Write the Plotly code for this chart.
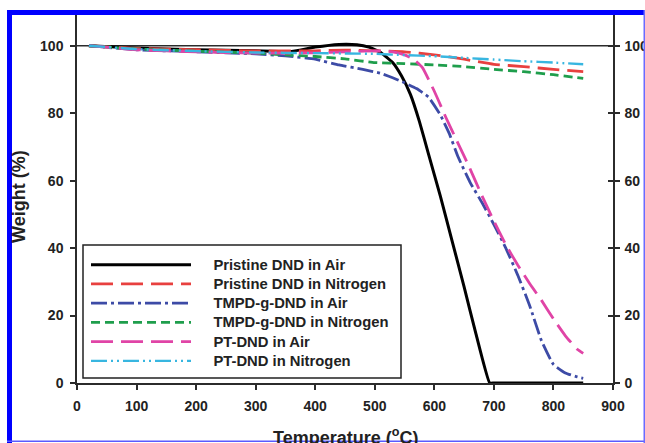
import plotly.graph_objects as go

# ---- TGA data: temperature (°C) and residual weight (%) per sample ----
t_pristine_air = [20, 100, 200, 300, 360, 400, 440, 470, 490, 510, 530, 545, 560, 575, 590, 610, 630, 650, 670, 693, 700, 750, 800, 850]
w_pristine_air = [100, 99.3, 98.8, 98.5, 98.3, 99.6, 100.4, 100.3, 99.6, 98.0, 95.0, 91.0, 85.5, 77.5, 68.0, 55.5, 42.0, 28.5, 14.5, 0, 0, 0, 0, 0]

t_pristine_n2 = [20, 100, 200, 300, 400, 450, 500, 550, 600, 650, 700, 750, 800, 850]
w_pristine_n2 = [100, 99.2, 98.8, 98.5, 98.5, 98.7, 98.5, 98.2, 97.3, 96.0, 94.5, 93.8, 93.0, 92.3]

t_tmpd_air = [20, 100, 200, 300, 350, 400, 440, 480, 510, 530, 550, 570, 590, 610, 625, 640, 660, 680, 700, 720, 740, 760, 780, 800, 820, 840, 850]
w_tmpd_air = [100, 98.8, 98.2, 97.6, 97.0, 96.0, 94.3, 93.0, 91.8, 90.5, 89.0, 87.3, 84.8, 79.5, 74.0, 67.0, 59.5, 53.5, 47.0, 40.0, 32.0, 23.0, 12.5, 5.5, 3.0, 1.8, 1.4]

t_tmpd_n2 = [20, 100, 200, 300, 350, 400, 450, 500, 550, 600, 650, 700, 750, 800, 850]
w_tmpd_n2 = [100, 99.0, 98.4, 97.8, 97.3, 96.8, 96.1, 95.0, 94.7, 94.3, 93.8, 93.0, 92.3, 91.4, 90.3]

t_pt_air = [20, 100, 200, 300, 400, 450, 500, 530, 550, 565, 580, 600, 620, 640, 660, 680, 700, 720, 740, 760, 780, 800, 820, 840, 850]
w_pt_air = [100, 98.8, 98.2, 97.8, 97.9, 98.2, 98.5, 98.2, 97.3, 96.0, 93.5, 86.5, 78.5, 71.0, 63.5, 55.5, 48.0, 41.0, 35.0, 29.5, 24.5, 19.0, 14.0, 10.0, 8.8]

t_pt_n2 = [20, 100, 200, 300, 400, 450, 500, 550, 600, 650, 700, 750, 800, 850]
w_pt_n2 = [100, 99.0, 98.4, 98.0, 97.8, 97.7, 97.6, 97.2, 96.9, 96.4, 95.9, 95.4, 95.0, 94.5]

series_names = [
    "Pristine DND in Air",
    "Pristine DND in Nitrogen",
    "TMPD-g-DND in Air",
    "TMPD-g-DND in Nitrogen",
    "PT-DND in Air",
    "PT-DND in Nitrogen",
]

x_ticks = [0, 100, 200, 300, 400, 500, 600, 700, 800, 900]
y_ticks = [0, 20, 40, 60, 80, 100]

# line styles: (colour, width, dash)
styles = [
    ("#000000", 3.0, "solid"),
    ("#e8403f", 2.8, "22px,8px"),
    ("#3d4ba6", 2.8, "16px,4px,3px,4px"),
    ("#1f9e4c", 2.8, "9px,5px"),
    ("#e044a6", 2.8, "22px,8px"),
    ("#38b6e0", 2.4, "16px,4px,2px,4px,2px,4px"),
]

data = [
    (t_pristine_air, w_pristine_air),
    (t_pristine_n2, w_pristine_n2),
    (t_tmpd_air, w_tmpd_air),
    (t_tmpd_n2, w_tmpd_n2),
    (t_pt_air, w_pt_air),
    (t_pt_n2, w_pt_n2),
]

FONT = "Arial, Liberation Sans, sans-serif"
AX = "#2b2b2b"
TXT = "#222222"
LEGEND_TEXT_PX = 14.8   # drawn size of the legend labels
LEGEND_GAP = "\u00a0" * 5  # space between the line sample and its label

fig = go.Figure()
for name, (tx, wy), (col, lw, dash) in zip(series_names, data, styles):
    fig.add_trace(go.Scatter(
        x=tx, y=wy, mode="lines",
        name=f'{LEGEND_GAP}<span style="font-size:{LEGEND_TEXT_PX}px">{name}</span>',
        line=dict(color=col, width=lw, dash=dash, shape="spline", smoothing=0.4),
    ))

# empty traces so the right-hand axes (labels + inward tick half) are drawn
fig.add_trace(go.Scatter(x=[], y=[], yaxis="y2", showlegend=False))
fig.add_trace(go.Scatter(x=[], y=[], yaxis="y3", showlegend=False))

tickfont = dict(family=FONT, size=14, color=TXT, weight="bold")

# plot-area geometry in pixels (for placing shapes/annotations in paper units)
L, R, T, B = 77, 613, 12, 383
W_PX, H_PX = R - L, B - T


def px(xp):
    return (xp - L) / W_PX


def py(yp):
    return (B - yp) / H_PX


shapes = [
    # reference line at 100 %
    dict(type="line", xref="x", yref="y", x0=0, x1=900, y0=100, y1=100,
         line=dict(color=AX, width=1.5), layer="below"),
    # legend frame
    dict(type="rect", xref="paper", yref="paper", x0=px(83), x1=px(401), y0=py(378), y1=py(245),
         line=dict(color=TXT, width=1.5), fillcolor="white", layer="below"),
    # blue outer frame
    dict(type="rect", xref="paper", yref="paper", x0=px(7), x1=px(646), y0=py(15), y1=py(10),
         line=dict(width=0), fillcolor="#0000ff", layer="above"),
    dict(type="rect", xref="paper", yref="paper", x0=px(7), x1=px(12), y0=py(444), y1=py(10),
         line=dict(width=0), fillcolor="#0000ff", layer="above"),
    dict(type="rect", xref="paper", yref="paper", x0=px(7), x1=px(646), y0=py(442), y1=py(440.5),
         line=dict(width=0), fillcolor="#5a5aff", layer="above"),
    dict(type="rect", xref="paper", yref="paper", x0=px(643.5), x1=px(646), y0=py(444), y1=py(10),
         line=dict(width=0), fillcolor="#6a6aff", layer="above"),
]

title_font = dict(family=FONT, size=18, color=TXT, weight="bold")
annotations = [
    dict(text="Temperature (<sup>o</sup>C)", xref="paper", yref="paper", x=0.5, y=py(436),
         xanchor="center", yanchor="middle", showarrow=False, font=title_font),
    dict(text="Weight (%)", xref="paper", yref="paper", x=px(19), y=py(197), textangle=-90,
         xanchor="center", yanchor="middle", showarrow=False, font=title_font),
]

axis_common = dict(
    ticks="outside", ticklen=5, tickwidth=1.5, tickcolor=AX,
    showline=True, linecolor=AX, linewidth=1.5, showgrid=False,
    zeroline=False, tickfont=tickfont, automargin=False,
)

fig.update_layout(
    width=645, height=443,
    margin=dict(l=L, r=645 - R, t=T, b=443 - B, pad=0, autoexpand=False),
    paper_bgcolor="white", plot_bgcolor="white",
    showlegend=True,
    legend=dict(
        x=px(86), y=py(250), xanchor="left", yanchor="top",
        bgcolor="rgba(0,0,0,0)", borderwidth=0,
        font=dict(family=FONT, size=12.5, color=TXT, weight="bold"),
        itemwidth=100, tracegroupgap=0,
    ),
    xaxis=dict(range=[0, 900], tickvals=x_ticks, ticklabelstandoff=4, **axis_common),
    yaxis=dict(range=[0, 110], tickvals=y_ticks, ticklabelstandoff=4, **axis_common),
    yaxis2=dict(range=[0, 110], tickvals=y_ticks, overlaying="y", side="right",
                ticklabelstandoff=2, **axis_common),
    yaxis3=dict(range=[0, 110], tickvals=y_ticks, overlaying="y", side="right",
                **{**axis_common, "ticks": "inside", "showticklabels": False}),
    shapes=shapes,
    annotations=annotations,
)

fig.write_html("out.html")
